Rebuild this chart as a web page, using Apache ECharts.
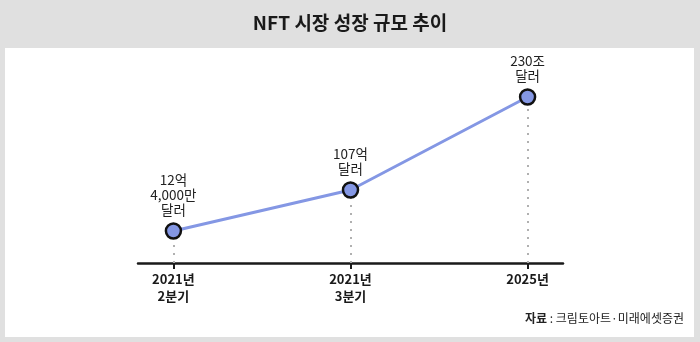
<!DOCTYPE html>
<html><head><meta charset="utf-8">
<script src="https://cdn.jsdelivr.net/npm/echarts@6/dist/echarts.min.js"></script>
<style>html,body{margin:0;padding:0;background:#e0e0e0}#c{width:700px;height:342px}</style>
</head><body><div id="c"></div>
<script>
const categories = ['2021년\n2분기', '2021년\n3분기', '2025년'];
const valueLabels = ['12억\n4,000만\n달러', '107억\n달러', '230조\n달러'];
// plotted heights as drawn (the chart is not to scale)
const plotHeights = [32, 73, 166];
const titleText = 'NFT 시장 성장 규모 추이';
const sourceText = '크림토아트·미래에셋증권';

const font = '"Noto Sans CJK KR", "Noto Sans", sans-serif';
const pts = plotHeights.map((v, i) => [i, v]);
const chart = echarts.init(document.getElementById('c'), null, {renderer: 'canvas'});
chart.setOption({
  backgroundColor: '#e0e0e0',
  animation: false,
  title: {
    text: titleText, left: 'center', top: 8,
    textStyle: {fontFamily: font, fontSize: 19, fontWeight: 'bold', color: '#1a1a1a'}
  },
  graphic: [
    {type: 'rect', z: -10, shape: {x: 5, y: 48, width: 689, height: 289}, style: {fill: '#ffffff'}},
    {type: 'text', right: 16, top: 312, style: {
      text: '{b|자료} : ' + sourceText,
      rich: {b: {fontWeight: 'bold', fontFamily: font, fontSize: 12, fill: '#222'}},
      fontFamily: font, fontSize: 12, fill: '#222'
    }}
  ],
  grid: {left: 138, right: 137, top: 63, bottom: 79},
  xAxis: {
    type: 'value', min: -0.2, max: 2.2,
    splitLine: {show: false},
    axisLine: {show: true, onZero: false, lineStyle: {color: '#1a1a1a', width: 2.5}},
    axisTick: {show: true, customValues: [0, 1, 2], length: 6, lineStyle: {color: '#1a1a1a', width: 2}},
    axisLabel: {
      customValues: [0, 1, 2], margin: 8,
      formatter: v => categories[Math.round(v)],
      fontFamily: font, fontSize: 13, fontWeight: 'bold', color: '#1a1a1a', lineHeight: 17
    }
  },
  yAxis: {type: 'value', min: 0, max: 200, show: false},
  series: [{
    type: 'line',
    data: pts,
    symbol: 'circle', symbolSize: 15,
    lineStyle: {color: '#8497e4', width: 3},
    itemStyle: {color: '#8497e4', borderColor: '#111', borderWidth: 2.5},
    label: {
      show: true, position: 'top', distance: 5,
      formatter: p => valueLabels[p.dataIndex],
      fontFamily: font, fontSize: 13.5, color: '#222', lineHeight: 15, align: 'center'
    },
    z: 5,
    markLine: {
      silent: true, symbol: 'none', z: 1,
      label: {show: false},
      lineStyle: {color: '#b0b0b0', type: [2, 6], width: 2},
      data: pts.map(p => [{coord: [p[0], 0]}, {coord: [p[0], p[1]]}])
    }
  }]
});
</script></body></html>
